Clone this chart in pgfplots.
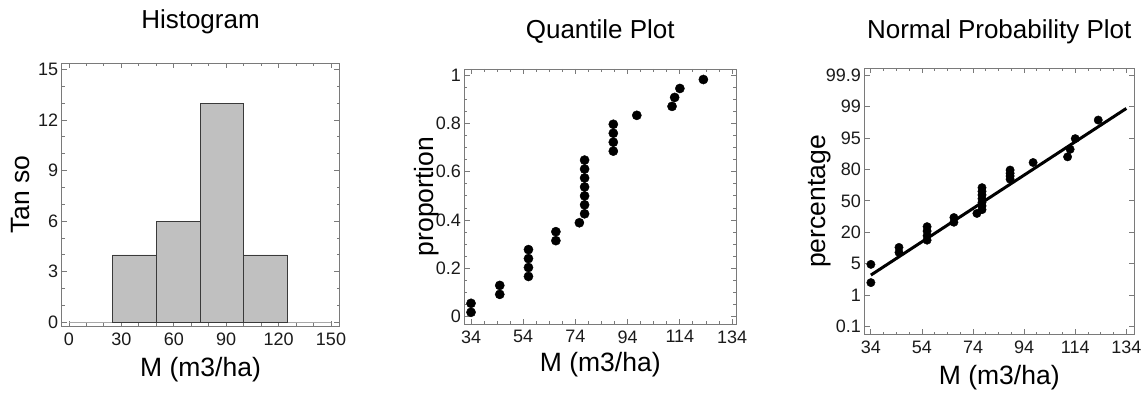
\documentclass[border=0pt]{standalone}
\usepackage{pgfplots}
\pgfplotsset{compat=1.18}
\usepackage{fontspec}
\setmainfont{Liberation Sans}
\definecolor{framegray}{HTML}{7A7A7A}
\definecolor{barfill}{HTML}{C0C0C0}
\definecolor{baredge}{HTML}{3A3A3A}
\definecolor{ticktext}{HTML}{1A1A1A}
\definecolor{zeroline}{HTML}{A8A8A8}

\pgfplotsset{
  mstyle/.style={
    scale only axis,
    axis line style={framegray, line width=0.9pt},
    tick style={framegray, line width=0.9pt},
    tick align=inside,
    xtick pos=both, ytick pos=both,
    major tick length=5pt, minor tick length=2.8pt,
    /pgf/number format/assume math mode=true,
    tick label style={font=\fontsize{18}{21}\selectfont, text=ticktext},
    xticklabel style={yshift=-3pt},
    label style={font=\fontsize{26.5}{31}\selectfont},
    title style={font=\fontsize{26}{31}\selectfont},
  }
}

\pgfplotstableread{
x y
34 0.0185
34 0.0556
45 0.0926
45 0.1296
56 0.1667
56 0.2037
56 0.2407
56 0.2778
66.5 0.3148
66.5 0.3519
75.5 0.3889
77.5 0.4259
77.5 0.4630
77.5 0.5000
77.5 0.5370
77.5 0.5741
77.5 0.6111
77.5 0.6481
88.5 0.6852
88.5 0.7222
88.5 0.7593
88.5 0.7963
97.5 0.8333
111 0.8704
112 0.9074
114 0.9444
123 0.9815
}\quantdata

\pgfplotstableread{
x y
34 1.40
34 1.98
45 2.36
45 2.52
56 2.75
56 2.89
56 3.04
56 3.18
66.5 3.32
66.5 3.47
75.5 3.60
77.5 3.72
77.5 3.84
77.5 3.95
77.5 4.07
77.5 4.19
77.5 4.30
77.5 4.42
88.5 4.69
88.5 4.79
88.5 4.88
88.5 4.98
97.5 5.22
111 5.40
112 5.64
114 5.98
123 6.57
}\probdata

\begin{document}
\begin{tikzpicture}
\path[use as bounding box] (0,0) rectangle (1144pt,396pt);

% Histogram
\begin{axis}[mstyle,
  at={(61.7pt,70pt)}, anchor=south west,
  width=277.6pt, height=262.7pt,
  xmin=-4.18, xmax=154.75, ymin=-0.22, ymax=15.36,
  xtick={0,30,60,90,120,150}, minor x tick num=2,
  ytick={0,3,6,9,12,15}, minor y tick num=2,
  xlabel={M (m3/ha)}, ylabel={Tan so}, title={Histogram},
  xlabel style={at={(axis description cs:0.5,0)}, anchor=center, yshift=-44pt},
  ylabel style={at={(axis description cs:-0.1466,0.5)}, anchor=center},
  title style={at={(axis description cs:0.5,1)}, anchor=center, yshift=36pt},
]
\addplot[draw=zeroline, line width=1.3pt] coordinates {(0,0) (150,0)};
\addplot[ybar interval, fill=barfill, draw=baredge, line width=0.6pt]
  coordinates {(25,4) (50,6) (75,13) (100,4) (125,4)};
\end{axis}

% Quantile plot
\begin{axis}[mstyle,
  at={(464.5pt,72pt)}, anchor=south west,
  width=271.5pt, height=255pt,
  xmin=31.5, xmax=135.5, ymin=-0.03, ymax=1.025,
  xtick={34,54,74,94,114,134}, minor x tick num=3,
  ytick={0,0.2,0.4,0.6,0.8,1}, minor y tick num=3,
  xlabel={M (m3/ha)}, ylabel={proportion}, title={Quantile Plot},
  xlabel style={at={(axis description cs:0.5,0)}, anchor=center, yshift=-41pt},
  ylabel style={at={(axis description cs:-0.138,0.5)}, anchor=center},
  title style={at={(axis description cs:0.5,1)}, anchor=center, yshift=31pt},
]
\addplot[only marks, mark=*, mark size=4.6pt, black] table[x=x,y=y] {\quantdata};
\end{axis}

% Normal probability plot
\begin{axis}[mstyle,
  at={(864.5pt,61.5pt)}, anchor=south west,
  width=269.5pt, height=266pt,
  xmin=31.5, xmax=137, ymin=-0.25, ymax=8.21,
  xtick={34,54,74,94,114,134}, minor x tick num=3,
  ytick={0,1,2,3,4,5,6,7,8},
  yticklabels={0.1,1,5,20,50,80,95,99,99.9},
  xlabel={M (m3/ha)}, ylabel={percentage}, title={Normal Probability Plot},
  xlabel style={at={(axis description cs:0.5,0)}, anchor=center, yshift=-43.5pt},
  ylabel style={at={(axis description cs:-0.165,0.5)}, anchor=center},
  title style={at={(axis description cs:0.5,1)}, anchor=center, yshift=30.5pt},
]
\addplot[only marks, mark=*, mark size=4.2pt, black] table[x=x,y=y] {\probdata};
\addplot[black, line width=3pt] coordinates {(34,1.64) (134,6.94)};
\end{axis}
\end{tikzpicture}
\end{document}
